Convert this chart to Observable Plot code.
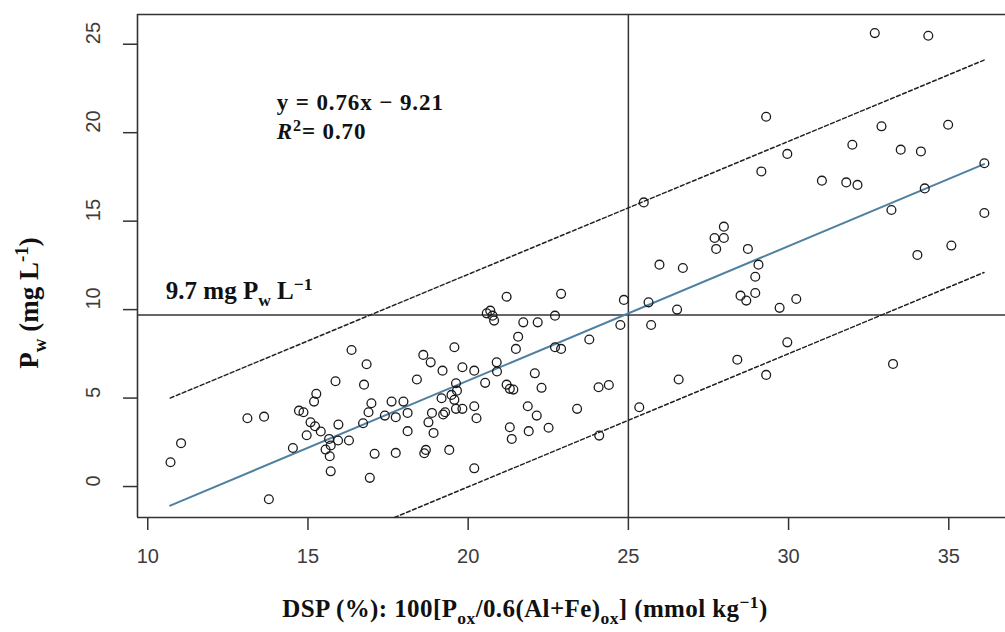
<!DOCTYPE html>
<html><head><meta charset="utf-8">
<script src="https://cdn.jsdelivr.net/npm/d3@7"></script>
<script src="https://cdn.jsdelivr.net/npm/@observablehq/plot@0.6"></script>
<style>body{margin:0;background:#fff}#chart svg{display:block}</style>
</head><body><div id="chart"></div>
<script>
// Degree of P saturation (DSP, %) for each sample
const dsp = [10.71,11.04,13.11,13.63,13.78,14.53,14.72,14.86,14.96,15.08,15.19,15.26,15.22,15.40,15.66,15.55,15.71,15.68,15.71,15.86,
  15.94,15.95,16.28,16.36,16.75,16.83,16.72,16.89,16.98,16.93,17.08,17.40,17.61,17.74,17.74,17.98,18.11,18.11,18.40,18.60,
  18.83,18.76,18.87,18.92,18.63,18.68,19.20,19.17,19.22,19.28,19.41,19.57,19.62,19.48,19.57,19.65,19.62,19.82,19.82,20.19,
  20.19,20.26,20.19,20.53,20.58,20.69,20.76,20.81,20.89,20.90,21.20,21.20,21.30,21.41,21.30,21.36,21.49,21.56,21.72,21.86,
  21.89,22.08,22.14,22.17,22.29,22.51,22.71,22.71,22.90,22.90,23.40,23.78,24.09,24.07,24.39,24.86,24.75,
  25.97,26.70,29.06,28.96,28.50,28.68,28.96,29.72,30.24,25.63,26.52,25.71,29.96,28.40,29.30,33.26,26.57,25.34,
  32.69,34.36,29.30,32.90,34.98,31.99,29.96,33.50,34.13,36.11,29.15,31.04,31.80,32.15,34.25,33.21,36.11,25.48,
  27.98,27.69,27.98,27.74,28.73,35.08,34.02];
// Water-extractable P (mg L-1) for each sample
const pw = [1.37,2.45,3.86,3.95,-0.72,2.18,4.29,4.20,2.90,3.63,4.80,5.24,3.41,3.11,2.69,2.09,2.32,1.71,0.86,5.95,
  2.60,3.50,2.60,7.72,5.76,6.91,3.58,4.20,4.71,0.49,1.85,4.01,4.80,3.92,1.90,4.80,4.16,3.13,6.05,7.44,
  7.02,3.63,4.16,3.03,1.88,2.07,6.55,4.99,4.07,4.20,2.07,7.87,5.84,5.18,4.90,5.42,4.39,4.39,6.74,6.55,
  4.54,3.86,1.03,5.86,9.79,9.94,9.66,9.38,7.02,6.50,10.73,5.76,5.52,5.48,3.35,2.69,7.78,8.47,9.28,4.54,
  3.13,6.40,4.01,9.28,5.58,3.32,9.66,7.87,10.89,7.78,4.39,8.31,2.88,5.61,5.74,10.55,9.13,
  12.54,12.35,12.54,11.86,10.79,10.51,10.94,10.10,10.60,10.41,10.00,9.13,8.15,7.17,6.31,6.93,6.05,4.48,
  25.63,25.48,20.90,20.36,20.45,19.32,18.80,19.04,18.94,18.27,17.81,17.29,17.19,17.05,16.85,15.63,15.46,16.06,
  14.69,14.05,14.05,13.43,13.43,13.62,13.09];

const xTicks = [10, 15, 20, 25, 30, 35];
const yTicks = [0, 5, 10, 15, 20, 25];
// regression y = 0.76x - 9.21 over the observed DSP range
const fitSlope = 0.76, fitIntercept = -9.21;
const fitRange = [10.7, 36.1];
// dashed band lines
const upperBandX = [10.7, 36.1], upperBandY = [5.0, 24.1];
const lowerBandX = [17.7, 36.1], lowerBandY = [-1.75, 12.1];
const thresholdDSP = 25, thresholdPw = 9.7;

const points = dsp.map((x, i) => ({x, y: pw[i]}));
const fit = fitRange.map(x => ({x, y: fitSlope * x + fitIntercept}));
const upper = upperBandX.map((x, i) => ({x, y: upperBandY[i]}));
const lower = lowerBandX.map((x, i) => ({x, y: lowerBandY[i]}));

const xDomain = [9.68, 36.77], yDomain = [-1.75, 26.68];
const axisColor = "#333";
const sans = "Liberation Sans, Arial, sans-serif";
const serif = "Liberation Serif, Times New Roman, serif";

const chart = Plot.plot({
  width: 1005, height: 632,
  marginLeft: 137, marginRight: 0, marginTop: 14, marginBottom: 115,
  x: {domain: xDomain, axis: null},
  y: {domain: yDomain, axis: null},
  style: {background: "#fff"},
  marks: [
    Plot.ruleX([thresholdDSP], {stroke: axisColor, strokeWidth: 1.5}),
    Plot.ruleY([thresholdPw], {stroke: axisColor, strokeWidth: 1.5}),
    Plot.line(upper, {x: "x", y: "y", stroke: "#222", strokeWidth: 1.5, strokeDasharray: "4,2.5"}),
    Plot.line(lower, {x: "x", y: "y", stroke: "#222", strokeWidth: 1.5, strokeDasharray: "4,2.5"}),
    Plot.line(fit, {x: "x", y: "y", stroke: "#4f80a2", strokeWidth: 2}),
    Plot.dot(points, {x: "x", y: "y", r: 4.4, stroke: "#1a1a1a", strokeWidth: 1.3, fill: "none"}),
    // box (top, bottom, left)
    Plot.ruleY([yDomain[1]], {stroke: axisColor, strokeWidth: 1.6}),
    Plot.ruleY([yDomain[0]], {stroke: axisColor, strokeWidth: 1.6}),
    Plot.ruleX([xDomain[0]], {stroke: axisColor, strokeWidth: 1.6}),
    // tick marks
    Plot.ruleX(xTicks, {x: d => d, y1: () => yDomain[0], y2: () => yDomain[0], insetBottom: -13, stroke: axisColor, strokeWidth: 1.5}),
    Plot.ruleY(yTicks, {y: d => d, x1: () => xDomain[0], x2: () => xDomain[0], insetLeft: -14, stroke: axisColor, strokeWidth: 1.5}),
    // tick labels
    Plot.text(xTicks, {x: d => d, frameAnchor: "bottom", dy: 45, text: d => String(d), fontSize: 20, fill: "#3c3c3c", fontFamily: sans}),
    Plot.text(yTicks, {y: d => d, frameAnchor: "left", dx: -44, rotate: -90, text: d => String(d), fontSize: 20, fill: "#3c3c3c", fontFamily: sans})
  ]
});
document.getElementById("chart").appendChild(chart);

const svg = d3.select(chart);
const sx = chart.scale("x"), sy = chart.scale("y");

function rich(x, y, parts, size, opts = {}) {
  const t = svg.append("text")
    .attr("transform", `translate(${x},${y})` + (opts.rotate ? ` rotate(${opts.rotate})` : ""))
    .attr("font-family", serif).attr("font-weight", "bold")
    .attr("font-size", size).attr("fill", "#111")
    .attr("text-anchor", opts.anchor || "start");
  if (opts.spacing) t.attr("letter-spacing", opts.spacing);
  let shift = 0;
  for (const p of parts) {
    const ts = t.append("tspan").text(p.t);
    let target = 0, fs = size;
    if (p.sub) { target = size * 0.28; fs = size * 0.7; }
    if (p.sup) { target = -size * 0.38; fs = size * 0.7; }
    ts.attr("font-size", fs);
    if (target !== shift) { ts.attr("dy", target - shift); shift = target; }
    if (p.italic) ts.attr("font-style", "italic");
  }
  return t;
}

// annotations (positioned in data coordinates)
rich(sx.apply(14.04), sy.apply(21.25), [{t: "y = 0.76x \u2212 9.21"}], 23, {spacing: 0.9});
rich(sx.apply(14.04), sy.apply(19.6), [{t: "R", italic: true}, {t: "2", sup: true}, {t: "= 0.70"}], 23, {spacing: 0.9});
rich(sx.apply(10.58), sy.apply(10.55), [{t: "9.7 mg P"}, {t: "w", sub: true}, {t: " L"}, {t: "\u22121", sup: true}], 25);

// axis titles
rich(525, 617, [{t: "DSP (%): 100[P"}, {t: "ox", sub: true}, {t: "/0.6(Al+Fe)"}, {t: "ox", sub: true}, {t: "] (mmol kg"}, {t: "\u22121", sup: true}, {t: ")"}], 25, {anchor: "middle", spacing: 0.4});
rich(38, 303, [{t: "P"}, {t: "w", sub: true}, {t: " (mg L"}, {t: "-1", sup: true}, {t: ")"}], 27, {anchor: "middle", rotate: -90});
</script>
</body></html>
